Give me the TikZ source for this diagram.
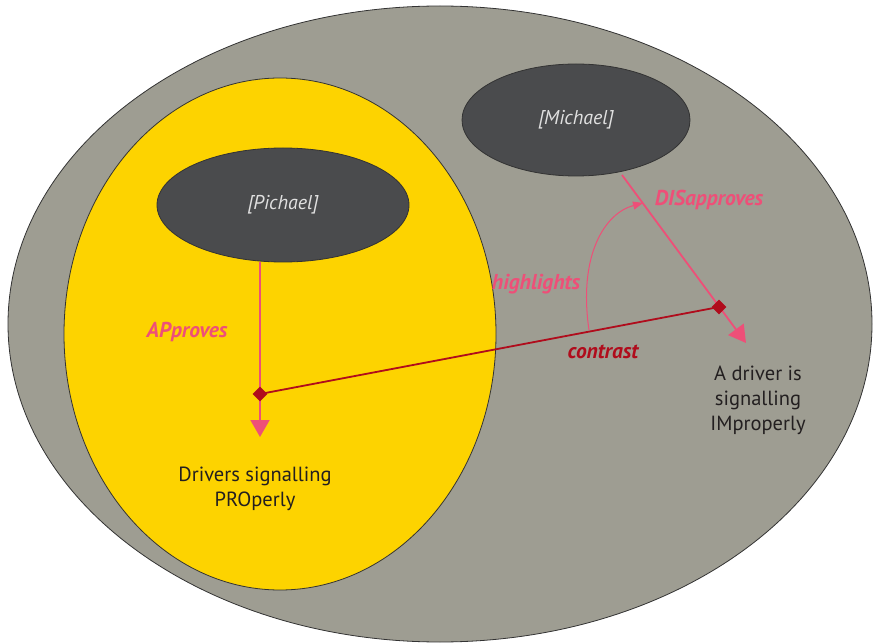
\documentclass[tikz,border=0pt]{standalone}
\usepackage{fontspec}
\setmainfont{PT Sans}
\usetikzlibrary{shapes.geometric,arrows.meta}
\definecolor{setgray}{HTML}{9E9D92}
\definecolor{setyellow}{HTML}{FDD300}
\definecolor{person}{HTML}{4A4B4D}
\definecolor{rel}{HTML}{EE4F78}
\definecolor{contrastred}{HTML}{B00C1C}
\definecolor{edge}{HTML}{333333}
\definecolor{ink}{HTML}{231F20}
\begin{document}
\begin{tikzpicture}[x=1pt,y=-1pt,
  region/.style={ellipse, draw=edge, line width=0.8pt, inner sep=0pt},
  personnode/.style={region, fill=person, text=white!88!black, font=\itshape\fontsize{20}{20}\selectfont},
  caption/.style={align=center, text=ink, font=\fontsize{20.5}{25}\selectfont},
  rellabel/.style={text=rel, font=\bfseries\itshape\fontsize{21.5}{21.5}\selectfont},
  relarrow/.style={draw=rel, line width=1.8pt, -{Triangle[length=17pt,width=19pt]}},
  joint/.style={diamond, fill=contrastred, inner sep=0pt, minimum size=15pt},
]
\useasboundingbox (0,0) rectangle (873,644);

% the universe of drivers and the set of proper signallers
\node[region, fill=setgray, minimum width=864pt, minimum height=636pt] (all) at (440,324) {};
\node[region, fill=setyellow, minimum width=432pt, minimum height=512pt] (proper) at (280,334) {};

% the two people
\node[personnode, minimum width=252pt, minimum height=114pt] (pich) at (283,205) {[Pichael]};
\node[personnode, minimum width=228pt, minimum height=112pt] (mich) at (576,120) {[Michael]};

% the two situations
\node[caption] (propertext) at (255,489) {Drivers signalling\\PROperly};
\node[caption] (impropertext) at (758,400) {A driver is\\signalling\\IMproperly};

% arrow ends and joints
\coordinate (pichtip) at (260,437);
\coordinate (michstart) at (622,175);
\coordinate (michtip) at (746,343);
\coordinate (pj) at (260,394);
\coordinate (mj) at (719,307);
\coordinate (hl) at (589,330);
\coordinate (hltip) at (643,203);

% approval and disapproval
\draw[relarrow] (pichtip |- pich.south) -- (pichtip);
\draw[relarrow] (michstart) -- (michtip);

% the contrast between the two judgements
\draw[draw=contrastred, line width=1.8pt] (pj) -- (mj);
\node[joint] (pjd) at (pj) {};
\node[joint] (mjd) at (mj) {};

% highlighting
\draw[draw=rel, line width=1pt, -{Triangle[length=10pt,width=8pt]}]
  (hl) .. controls (578,255) and (605,213) .. (hltip);

% labels
\node[rellabel] (lapp) at (187,332) {APproves};
\node[rellabel] (ldis) at (709,200) {DISapproves};
\node[rellabel] (lhl) at (536,284) {highlights};
\node[rellabel, text=contrastred] (lcon) at (603,352) {contrast};
\end{tikzpicture}
\end{document}
